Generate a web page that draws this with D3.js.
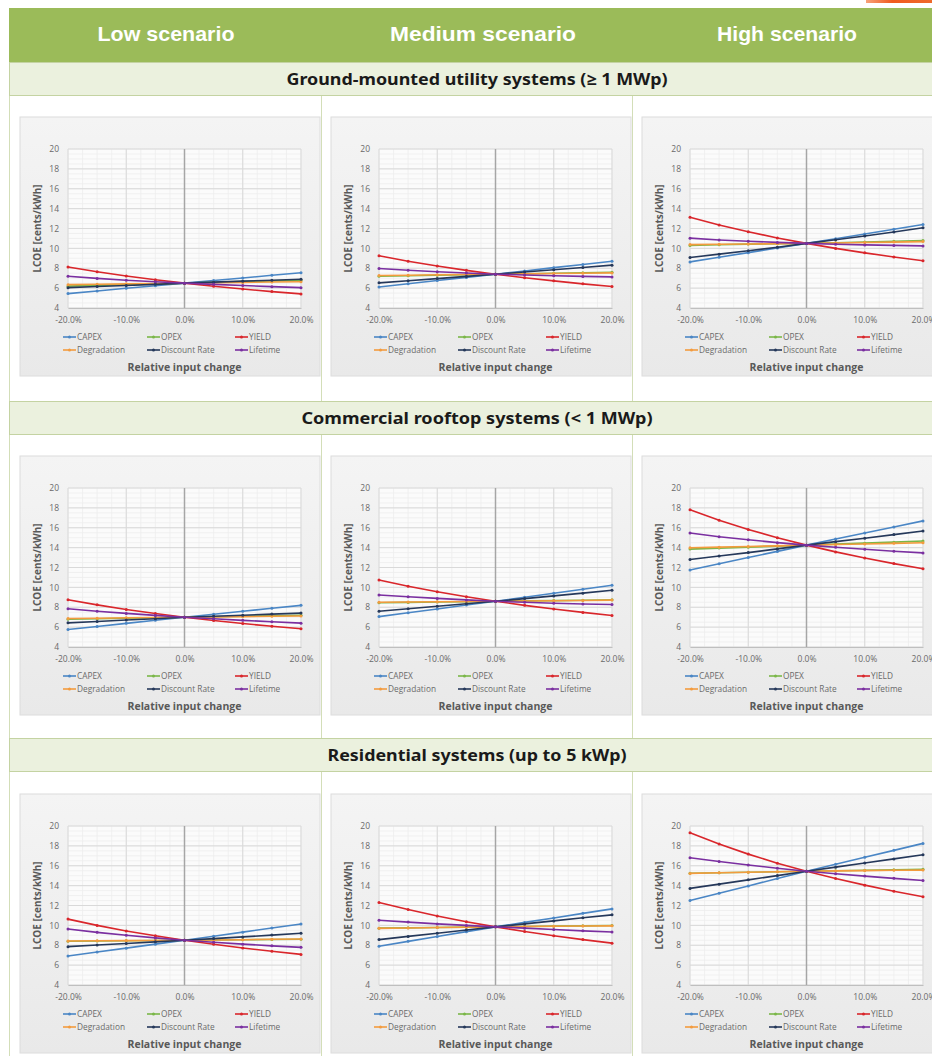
<!DOCTYPE html>
<html>
<head>
<meta charset="utf-8">
<script src="https://cdn.jsdelivr.net/npm/d3@7"></script>
<style>
  body { margin: 0; background: #fff; }
  svg { display: block; }
</style>
</head>
<body>
<svg id="chart" width="932" height="1056"></svg>
<script>
// input change steps (-20% .. +20%)
const steps = [-0.20, -0.15, -0.10, -0.05, 0, 0.05, 0.10, 0.15, 0.20];
const seriesNames = ['CAPEX', 'OPEX', 'YIELD', 'Degradation', 'Discount Rate', 'Lifetime'];
const seriesColors = ['#4a86c5', '#7ab648', '#d9262b', '#f39b3e', '#25385a', '#7a2fa0'];
const scenarios = ['Low scenario', 'Medium scenario', 'High scenario'];
const segments = [
  'Ground-mounted utility systems (\u2265 1 MWp)',
  'Commercial rooftop systems (< 1 MWp)',
  'Residential systems (up to 5 kWp)'
];
const yTicks = [4, 6, 8, 10, 12, 14, 16, 18, 20];
const xTicks = [-0.2, -0.1, 0, 0.1, 0.2];

// LCOE values, one row per series (CAPEX, OPEX, YIELD, Degradation, Discount Rate, Lifetime)
const groundLow = [
  [5.45, 5.71, 5.98, 6.24, 6.50, 6.76, 7.02, 7.29, 7.55],
  [6.20, 6.28, 6.35, 6.43, 6.50, 6.58, 6.65, 6.73, 6.80],
  [8.13, 7.65, 7.22, 6.84, 6.50, 6.19, 5.91, 5.65, 5.42],
  [6.35, 6.39, 6.43, 6.46, 6.50, 6.54, 6.57, 6.61, 6.64],
  [6.05, 6.16, 6.27, 6.38, 6.50, 6.60, 6.70, 6.80, 6.90],
  [7.20, 6.98, 6.80, 6.64, 6.50, 6.38, 6.26, 6.15, 6.05]
];
const groundMedium = [
  [6.12, 6.44, 6.76, 7.08, 7.40, 7.73, 8.06, 8.38, 8.71],
  [7.20, 7.25, 7.30, 7.35, 7.40, 7.45, 7.50, 7.55, 7.60],
  [9.25, 8.71, 8.22, 7.79, 7.40, 7.05, 6.73, 6.43, 6.17],
  [7.27, 7.30, 7.34, 7.37, 7.40, 7.43, 7.47, 7.50, 7.53],
  [6.53, 6.74, 6.96, 7.18, 7.40, 7.62, 7.85, 8.08, 8.31],
  [7.97, 7.80, 7.65, 7.52, 7.40, 7.32, 7.24, 7.18, 7.13]
];
const groundHigh = [
  [8.64, 9.11, 9.57, 10.04, 10.50, 10.97, 11.44, 11.92, 12.40],
  [10.30, 10.37, 10.43, 10.47, 10.50, 10.57, 10.64, 10.71, 10.78],
  [13.13, 12.35, 11.67, 11.05, 10.50, 10.00, 9.55, 9.13, 8.75],
  [10.38, 10.41, 10.44, 10.47, 10.50, 10.54, 10.59, 10.63, 10.68],
  [9.08, 9.42, 9.76, 10.12, 10.50, 10.87, 11.25, 11.65, 12.07],
  [11.03, 10.85, 10.72, 10.60, 10.50, 10.42, 10.35, 10.30, 10.25]
];
const commercialLow = [
  [5.76, 6.07, 6.38, 6.69, 7.00, 7.30, 7.60, 7.90, 8.19],
  [6.80, 6.85, 6.90, 6.95, 7.00, 7.05, 7.10, 7.15, 7.20],
  [8.75, 8.24, 7.78, 7.37, 7.00, 6.67, 6.36, 6.09, 5.83],
  [6.87, 6.90, 6.94, 6.97, 7.00, 7.03, 7.06, 7.09, 7.12],
  [6.43, 6.57, 6.71, 6.85, 7.00, 7.10, 7.20, 7.31, 7.41],
  [7.85, 7.60, 7.38, 7.18, 7.00, 6.84, 6.68, 6.54, 6.40]
];
const commercialMedium = [
  [7.06, 7.45, 7.83, 8.22, 8.60, 9.00, 9.41, 9.81, 10.22],
  [8.45, 8.49, 8.53, 8.56, 8.60, 8.64, 8.67, 8.71, 8.75],
  [10.75, 10.12, 9.56, 9.05, 8.60, 8.19, 7.82, 7.48, 7.17],
  [8.50, 8.53, 8.55, 8.58, 8.60, 8.63, 8.65, 8.68, 8.72],
  [7.60, 7.85, 8.10, 8.35, 8.60, 8.87, 9.14, 9.42, 9.71],
  [9.24, 9.05, 8.89, 8.74, 8.60, 8.50, 8.41, 8.33, 8.27]
];
const commercialHigh = [
  [11.75, 12.37, 13.00, 13.62, 14.25, 14.86, 15.47, 16.08, 16.69],
  [13.85, 13.95, 14.05, 14.15, 14.25, 14.35, 14.45, 14.55, 14.66],
  [17.81, 16.76, 15.83, 15.00, 14.25, 13.57, 12.95, 12.39, 11.88],
  [13.98, 14.05, 14.12, 14.18, 14.25, 14.31, 14.37, 14.43, 14.49],
  [12.80, 13.15, 13.50, 13.87, 14.25, 14.60, 14.95, 15.31, 15.67],
  [15.47, 15.10, 14.80, 14.50, 14.25, 14.03, 13.83, 13.64, 13.47]
];
const residentialLow = [
  [6.92, 7.32, 7.71, 8.11, 8.50, 8.91, 9.32, 9.73, 10.14],
  [8.40, 8.43, 8.45, 8.48, 8.50, 8.53, 8.55, 8.58, 8.60],
  [10.63, 10.00, 9.44, 8.95, 8.50, 8.10, 7.73, 7.39, 7.08],
  [8.43, 8.45, 8.47, 8.48, 8.50, 8.53, 8.56, 8.60, 8.63],
  [7.86, 8.02, 8.18, 8.34, 8.50, 8.67, 8.84, 9.02, 9.20],
  [9.64, 9.30, 9.00, 8.74, 8.50, 8.30, 8.11, 7.94, 7.79]
];
const residentialMedium = [
  [7.90, 8.39, 8.88, 9.37, 9.85, 10.30, 10.75, 11.21, 11.66],
  [9.72, 9.75, 9.78, 9.82, 9.85, 9.88, 9.92, 9.95, 9.98],
  [12.31, 11.59, 10.94, 10.37, 9.85, 9.38, 8.95, 8.57, 8.21],
  [9.70, 9.74, 9.78, 9.81, 9.85, 9.88, 9.91, 9.93, 9.95],
  [8.57, 8.89, 9.21, 9.53, 9.85, 10.15, 10.45, 10.76, 11.06],
  [10.52, 10.33, 10.15, 10.00, 9.85, 9.72, 9.58, 9.45, 9.33]
];
const residentialHigh = [
  [12.50, 13.24, 13.97, 14.71, 15.45, 16.15, 16.85, 17.55, 18.25],
  [15.25, 15.30, 15.35, 15.40, 15.45, 15.50, 15.55, 15.60, 15.65],
  [19.31, 18.18, 17.17, 16.26, 15.45, 14.71, 14.05, 13.43, 12.88],
  [15.23, 15.29, 15.34, 15.40, 15.45, 15.48, 15.51, 15.54, 15.56],
  [13.72, 14.15, 14.58, 15.01, 15.45, 15.86, 16.27, 16.69, 17.11],
  [16.81, 16.42, 16.07, 15.75, 15.45, 15.20, 14.96, 14.73, 14.52]
];

const grid = [
  [groundLow, groundMedium, groundHigh],
  [commercialLow, commercialMedium, commercialHigh],
  [residentialLow, residentialMedium, residentialHigh]
];

const svg = d3.select('#chart');
const W = 932;
const plotW = 233, plotH = 159;
const colLeft = [68, 379, 690];
const rowTop = [149, 488, 826];
const bandTop = [62, 401, 738];
const rowBottom = [401, 738, 1056];
const dividers = [321, 632];
const textGray = '#595959';
const pctFmt = d => (d * 100).toFixed(1) + '%';

const defs = svg.append('defs');
const boxGrad = defs.append('linearGradient').attr('id', 'boxGrad')
  .attr('x1', 0).attr('y1', 0).attr('x2', 0).attr('y2', 1);
boxGrad.append('stop').attr('offset', '0%').attr('stop-color', '#f4f4f4');
boxGrad.append('stop').attr('offset', '100%').attr('stop-color', '#e9e9e9');
const orangeGrad = defs.append('linearGradient').attr('id', 'orangeGrad');
orangeGrad.append('stop').attr('offset', '0%').attr('stop-color', '#f7a27a');
orangeGrad.append('stop').attr('offset', '40%').attr('stop-color', '#f05a1e');
orangeGrad.append('stop').attr('offset', '100%').attr('stop-color', '#ee6a2c');

// top accent and scenario header
svg.append('rect').attr('x', 866).attr('y', 0).attr('width', 66).attr('height', 3)
  .attr('fill', 'url(#orangeGrad)');
svg.append('rect').attr('x', 9).attr('y', 8).attr('width', W - 9).attr('height', 54)
  .attr('fill', '#9bbb59');
const headerX = [166, 483, 787];
const headerLen = [137, 186, 140];
svg.selectAll('.scenario')
  .data(scenarios)
  .enter()
  .append('text')
  .attr('class', 'scenario')
  .attr('x', (d, i) => headerX[i])
  .attr('y', 41)
  .attr('text-anchor', 'middle')
  .attr('textLength', (d, i) => headerLen[i])
  .attr('lengthAdjust', 'spacingAndGlyphs')
  .style('font', 'bold 21px "Liberation Sans", Arial, sans-serif')
  .style('fill', '#fff')
  .text(d => d);

const bandLen = [381, 351, 299];

segments.forEach((seg, r) => {
  // row panel
  svg.append('rect')
    .attr('x', 9.5).attr('y', bandTop[r] + 33.5)
    .attr('width', W).attr('height', rowBottom[r] - bandTop[r] - 33)
    .attr('fill', '#fff').attr('stroke', '#d3deb8');
  dividers.forEach(x => {
    svg.append('line')
      .attr('x1', x + 0.5).attr('x2', x + 0.5)
      .attr('y1', bandTop[r] + 34).attr('y2', rowBottom[r])
      .attr('stroke', '#d3deb8');
  });
  // segment band
  svg.append('rect')
    .attr('x', 9.5).attr('y', bandTop[r] + 0.5)
    .attr('width', W).attr('height', 33)
    .attr('fill', '#ebf1de').attr('stroke', '#c4d3a2');
  svg.append('text')
    .attr('x', 477).attr('y', bandTop[r] + 23)
    .attr('text-anchor', 'middle')
    .attr('textLength', bandLen[r])
    .attr('lengthAdjust', 'spacingAndGlyphs')
    .style('font', 'bold 16px "Noto Sans", "Open Sans", sans-serif')
    .style('fill', '#1a1a1a')
    .text(seg);
});

function drawChart(data, left, top) {
  const x = d3.scaleLinear().domain([-0.2, 0.2]).range([left, left + plotW]);
  const y = d3.scaleLinear().domain([4, 20]).range([top + plotH, top]);
  const g = svg.append('g');

  g.append('rect')
    .attr('x', left - 48).attr('y', top - 32)
    .attr('width', 300).attr('height', 259)
    .attr('fill', 'url(#boxGrad)')
    .attr('stroke', '#dcdcdc');
  g.append('rect')
    .attr('x', left).attr('y', top)
    .attr('width', plotW).attr('height', plotH)
    .attr('fill', '#fbfbfb');

  // minor grid
  g.selectAll('.minor-x')
    .data(d3.range(-0.2, 0.2001, 0.025))
    .enter().append('line')
    .attr('x1', d => x(d)).attr('x2', d => x(d))
    .attr('y1', top).attr('y2', top + plotH)
    .attr('stroke', '#eeeeee').attr('stroke-width', 0.8);
  g.selectAll('.minor-y')
    .data(d3.range(4, 20.01, 0.5))
    .enter().append('line')
    .attr('x1', left).attr('x2', left + plotW)
    .attr('y1', d => y(d)).attr('y2', d => y(d))
    .attr('stroke', '#eeeeee').attr('stroke-width', 0.8);
  // major grid
  g.selectAll('.major-x')
    .data(xTicks)
    .enter().append('line')
    .attr('x1', d => x(d)).attr('x2', d => x(d))
    .attr('y1', top).attr('y2', top + plotH)
    .attr('stroke', '#d9d9d9');
  g.selectAll('.major-y')
    .data(yTicks)
    .enter().append('line')
    .attr('x1', left).attr('x2', left + plotW)
    .attr('y1', d => y(d)).attr('y2', d => y(d))
    .attr('stroke', '#d9d9d9');

  // value axis crossing at 0%
  g.append('line')
    .attr('x1', x(0)).attr('x2', x(0))
    .attr('y1', top).attr('y2', top + plotH)
    .attr('stroke', '#a6a6a6').attr('stroke-width', 1.5);

  const yAxis = g.append('g')
    .attr('transform', `translate(${left},0)`)
    .call(d3.axisLeft(y).tickValues(yTicks).tickSize(0).tickPadding(9));
  const xAxis = g.append('g')
    .attr('transform', `translate(0,${top + plotH})`)
    .call(d3.axisBottom(x).tickValues(xTicks).tickSize(0).tickPadding(9).tickFormat(pctFmt));
  yAxis.select('.domain').remove();
  xAxis.select('.domain').attr('stroke', '#bfbfbf');
  [yAxis, xAxis].forEach(a => a.selectAll('text')
    .style('font', '8.5px "Open Sans", sans-serif')
    .style('fill', '#6a6a6a'));

  const line = d3.line()
    .x((d, i) => x(steps[i]))
    .y(d => y(d));

  data.forEach((vals, s) => {
    g.append('path')
      .datum(vals)
      .attr('d', line)
      .attr('fill', 'none')
      .attr('stroke', seriesColors[s])
      .attr('stroke-width', 1.6);
    g.selectAll('.m' + s)
      .data(vals)
      .enter().append('circle')
      .attr('cx', (d, i) => x(steps[i]))
      .attr('cy', d => y(d))
      .attr('r', 1.5)
      .attr('fill', seriesColors[s]);
  });

  // axis titles
  g.append('text')
    .attr('transform', `translate(${left - 27},${top + plotH / 2}) rotate(-90)`)
    .attr('text-anchor', 'middle')
    .style('font', 'bold 10px "Open Sans", sans-serif')
    .style('fill', textGray)
    .text('LCOE [cents/kWh]');
  g.append('text')
    .attr('x', left + plotW / 2).attr('y', top + plotH + 63)
    .attr('text-anchor', 'middle')
    .style('font', 'bold 10.5px "Open Sans", sans-serif')
    .style('fill', textGray)
    .text('Relative input change');

  // legend
  const legX = [-5, 79, 167];
  seriesNames.forEach((name, s) => {
    const lx = left + legX[s % 3];
    const ly = top + plotH + 29 + Math.floor(s / 3) * 13;
    g.append('line')
      .attr('x1', lx).attr('x2', lx + 13)
      .attr('y1', ly).attr('y2', ly)
      .attr('stroke', seriesColors[s]).attr('stroke-width', 1.6);
    g.append('circle')
      .attr('cx', lx + 6.5).attr('cy', ly).attr('r', 1.5)
      .attr('fill', seriesColors[s]);
    g.append('text')
      .attr('x', lx + 14).attr('y', ly)
      .attr('dy', '0.35em')
      .style('font', '8.3px "Open Sans", sans-serif')
      .style('fill', '#6a6a6a')
      .text(name);
  });
}

grid.forEach((row, r) => {
  row.forEach((data, c) => drawChart(data, colLeft[c], rowTop[r]));
});
</script>
</body>
</html>
